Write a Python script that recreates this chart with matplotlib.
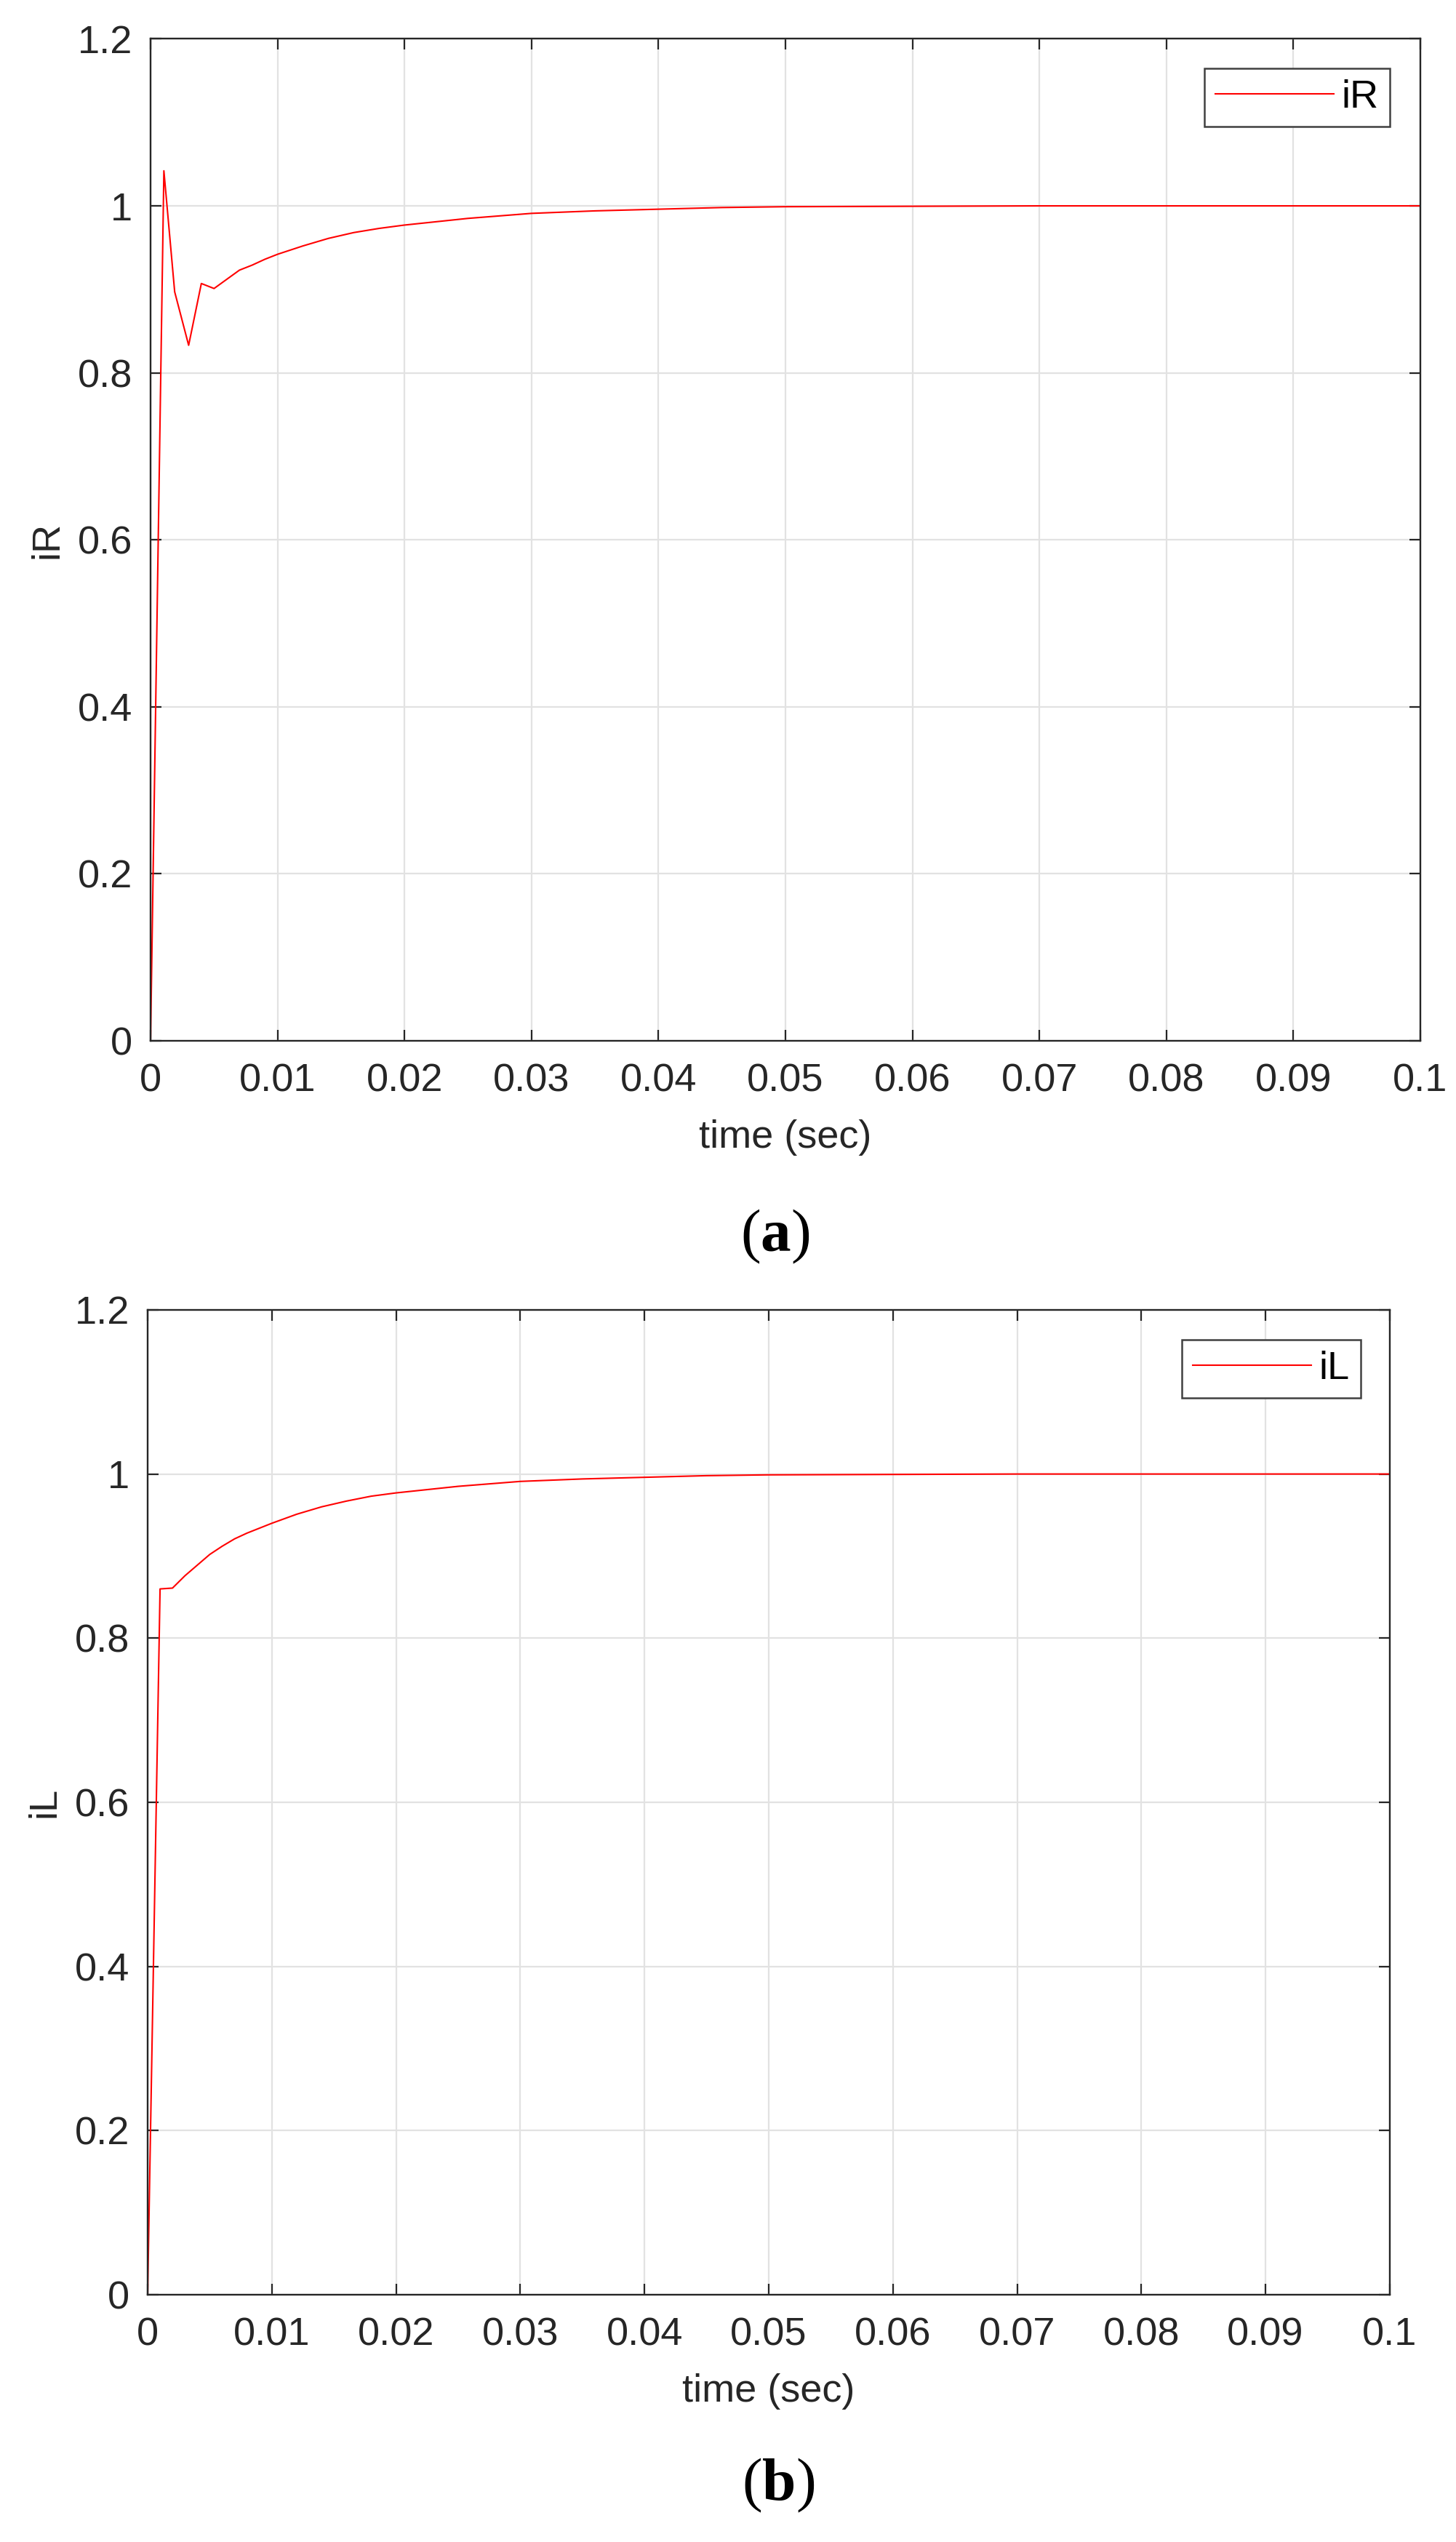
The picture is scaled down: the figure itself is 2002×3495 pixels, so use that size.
import numpy as np
import matplotlib
matplotlib.use('Agg')
import matplotlib.pyplot as plt

# ---- data (step response, 0..0.1 s)
t_R  = [0, 0.00105, 0.0019, 0.003, 0.004, 0.005, 0.006, 0.007, 0.008, 0.009,
        0.010, 0.012, 0.014, 0.016, 0.018, 0.020, 0.025, 0.030, 0.035, 0.040,
        0.045, 0.050, 0.060, 0.070, 0.080, 0.090, 0.100]
iR   = [0, 1.042, 0.897, 0.833, 0.907, 0.901, 0.912, 0.923, 0.929, 0.936,
        0.942, 0.952, 0.961, 0.968, 0.973, 0.977, 0.985, 0.991, 0.994, 0.996,
        0.998, 0.999, 0.9995, 1.0, 1.0, 1.0, 1.0]

t_L  = [0, 0.001, 0.002, 0.003, 0.004, 0.005, 0.006, 0.007, 0.008, 0.009,
        0.010, 0.012, 0.014, 0.016, 0.018, 0.020, 0.025, 0.030, 0.035, 0.040,
        0.045, 0.050, 0.060, 0.070, 0.080, 0.090, 0.100]
iL   = [0, 0.860, 0.861, 0.876, 0.889, 0.902, 0.912, 0.921, 0.928, 0.934,
        0.940, 0.951, 0.960, 0.967, 0.973, 0.977, 0.985, 0.991, 0.994, 0.996,
        0.998, 0.999, 0.9995, 1.0, 1.0, 1.0, 1.0]

xticks = [0, 0.01, 0.02, 0.03, 0.04, 0.05, 0.06, 0.07, 0.08, 0.09, 0.1]
xticklabels = ['0', '0.01', '0.02', '0.03', '0.04', '0.05', '0.06', '0.07', '0.08', '0.09', '0.1']
yticks = [0, 0.2, 0.4, 0.6, 0.8, 1.0, 1.2]
yticklabels = ['0', '0.2', '0.4', '0.6', '0.8', '1', '1.2']

plt.rcParams.update({'font.family': ['Liberation Sans', 'DejaVu Sans'],
                     'font.size': 39,
                     'mathtext.fontset': 'custom',
                     'mathtext.rm': 'Liberation Serif',
                     'mathtext.it': 'Liberation Serif',
                     'mathtext.bf': 'Liberation Serif:bold'})

AXC = '#262626'
FS = 39


def draw_panel(ax, t, y, name, leg_anchor):
  ax.plot(t, y, color='#ff0000', lw=1.5, label=name)
  ax.set_xlim(0, 0.1)
  ax.set_ylim(0, 1.2)
  ax.set_xticks(xticks)
  ax.set_xticklabels(xticklabels)
  ax.set_yticks(yticks)
  ax.set_yticklabels(yticklabels)
  ax.grid(True, color='#e2e2e2', lw=1.6)
  ax.set_axisbelow(True)
  for s in ax.spines.values():
    s.set_color(AXC)
    s.set_linewidth(1.7)
  ax.tick_params(direction='in', length=11, width=1.6, color=AXC,
                 labelcolor=AXC, top=True, right=True, labelsize=FS)
  ax.tick_params(axis='x', pad=22)
  ax.tick_params(axis='y', pad=18)
  ax.set_xlabel('time (sec)', color=AXC, fontsize=FS, labelpad=20)
  ax.set_ylabel(name, color=AXC, fontsize=FS, labelpad=12)
  leg = ax.legend(loc='upper right', bbox_to_anchor=leg_anchor,
                  borderaxespad=0, fontsize=FS, handlelength=3.0,
                  handletextpad=0.2, borderpad=0.28, fancybox=False,
                  framealpha=1, edgecolor='#404040')
  leg.get_frame().set_linewidth(1.8)
  return ax


fig = plt.figure(figsize=(20.02, 34.95), dpi=100)
ax1 = fig.add_axes([0.1034, 0.5906, 0.8721, 0.3941])
ax2 = fig.add_axes([0.1014, 0.0973, 0.8531, 0.3874])

draw_panel(ax1, t_R, iR, 'iR', (0.976, 0.9706))
draw_panel(ax2, t_L, iL, 'iL', (0.9766, 0.9697))

fig.text(1066/2002, 1-1700/3495, r'$(\mathbf{a})$', fontsize=60,
         ha='center', va='center', color='black')
fig.text(1070/2002, 1-3417/3495, r'$(\mathbf{b})$', fontsize=60,
         ha='center', va='center', color='black')

fig.savefig('out.png', dpi=100)
